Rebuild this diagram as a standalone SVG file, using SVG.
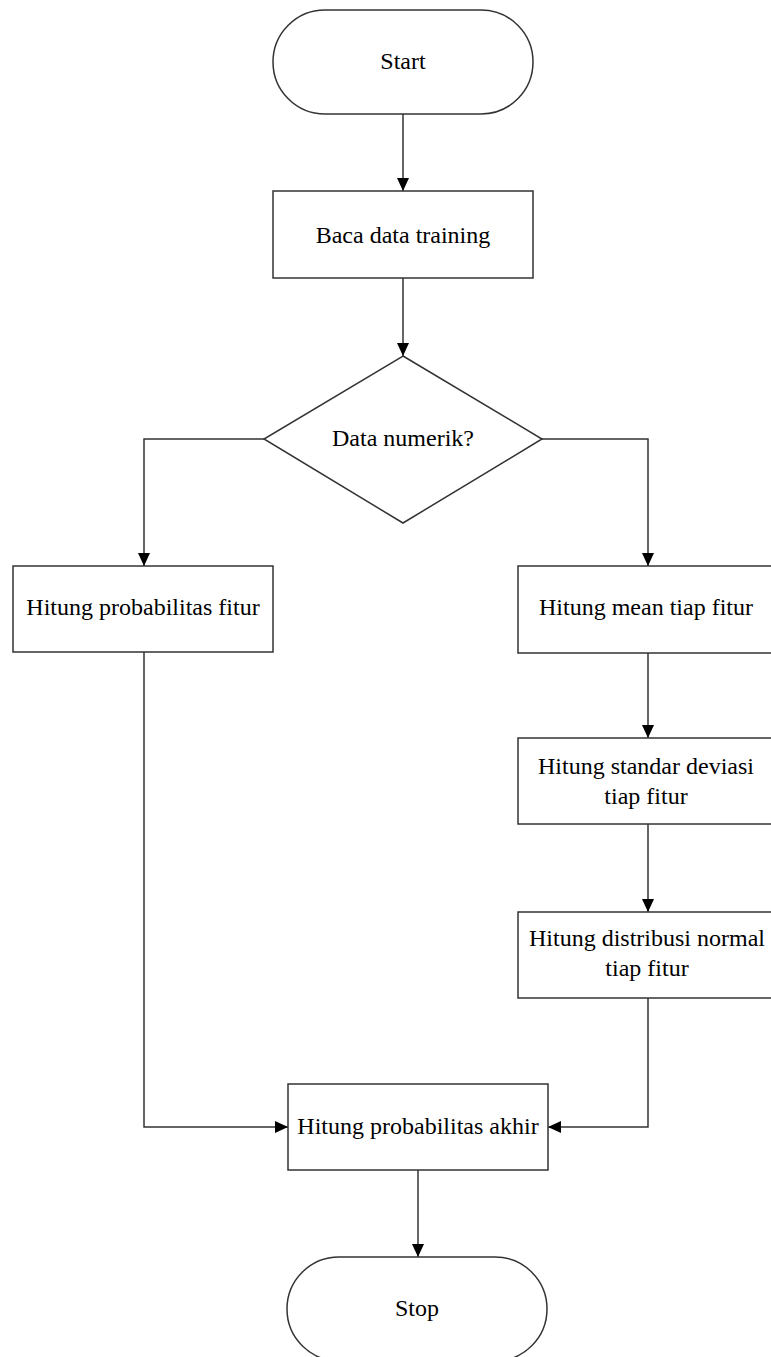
<svg xmlns="http://www.w3.org/2000/svg" width="771" height="1357" viewBox="0 0 771 1357">
  <style>
    .shape { fill: #ffffff; stroke: #333333; stroke-width: 1.5; }
    .edge { fill: none; stroke: #333333; stroke-width: 1.5; marker-end: url(#arrow); }
    .label { font-family: "Liberation Serif", "Times New Roman", serif; font-size: 24px; fill: #000000; text-anchor: middle; }
  </style>
  <defs>
    <marker id="arrow" markerUnits="userSpaceOnUse" markerWidth="13" markerHeight="12" refX="13" refY="6" orient="auto">
      <path d="M0,0 L13,6 L0,12 z" fill="#000000"/>
    </marker>
  </defs>
  <rect width="771" height="1357" fill="#ffffff"/>

  <g id="connectors">
    <path class="edge" d="M403,114 L403,191"/>
    <path class="edge" d="M403,278 L403,356"/>
    <path class="edge" d="M264,439 L144,439 L144,566"/>
    <path class="edge" d="M542,439 L648,439 L648,566"/>
    <path class="edge" d="M648,653 L648,738"/>
    <path class="edge" d="M648,824 L648,912"/>
    <path class="edge" d="M144,652 L144,1127 L288,1127"/>
    <path class="edge" d="M648,998 L648,1127 L548,1127"/>
    <path class="edge" d="M418,1170 L418,1257"/>
  </g>

  <g id="start">
    <rect class="shape" x="273" y="10" width="260" height="104" rx="52" ry="52"/>
    <text class="label" x="403" y="69">Start</text>
  </g>

  <g id="read-training">
    <rect class="shape" x="273" y="191" width="260" height="87"/>
    <text class="label" x="403" y="243">Baca data training</text>
  </g>

  <g id="numeric-decision">
    <polygon class="shape" points="403,356 542,439 403,523 264,439"/>
    <text class="label" x="403" y="446">Data numerik?</text>
  </g>

  <g id="feature-probability">
    <rect class="shape" x="13" y="566" width="260" height="86"/>
    <text class="label" x="143" y="615">Hitung probabilitas fitur</text>
  </g>

  <g id="feature-mean">
    <rect class="shape" x="518" y="566" width="260" height="87"/>
    <text class="label" x="646" y="615">Hitung mean tiap fitur</text>
  </g>

  <g id="feature-stddev">
    <rect class="shape" x="518" y="738" width="260" height="86"/>
    <text class="label" x="646" y="774">Hitung standar deviasi</text>
    <text class="label" x="646" y="804">tiap fitur</text>
  </g>

  <g id="feature-normal">
    <rect class="shape" x="518" y="912" width="260" height="86"/>
    <text class="label" x="647" y="946">Hitung distribusi normal</text>
    <text class="label" x="647" y="976">tiap fitur</text>
  </g>

  <g id="final-probability">
    <rect class="shape" x="288" y="1084" width="260" height="86"/>
    <text class="label" x="418" y="1134">Hitung probabilitas akhir</text>
  </g>

  <g id="stop">
    <rect class="shape" x="287" y="1257" width="260" height="104" rx="52" ry="52"/>
    <text class="label" x="417" y="1316">Stop</text>
  </g>
</svg>
